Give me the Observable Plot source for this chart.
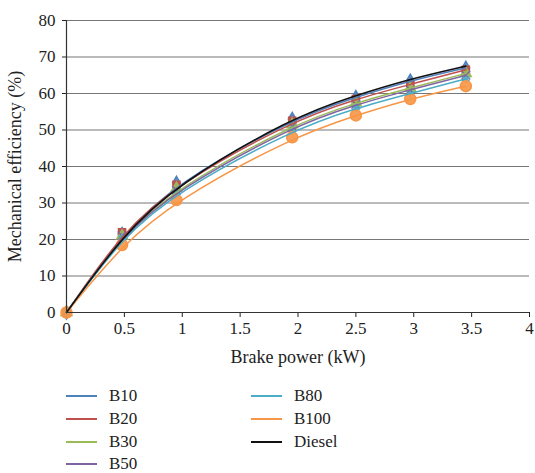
<!DOCTYPE html>
<html>
<head>
<meta charset="utf-8">
<script src="https://cdn.jsdelivr.net/npm/d3@7"></script>
<script src="https://cdn.jsdelivr.net/npm/@observablehq/plot@0.6"></script>
<style>
  html, body { margin: 0; padding: 0; background: #fff; }
  body { width: 535px; height: 473px; overflow: hidden; font-family: "Liberation Serif", "DejaVu Serif", serif; }
  #chart svg { display: block; }
  #legend { position: relative; height: 103px; font-size: 17px; line-height: 18px; color: #222; }
  .item { position: absolute; display: flex; align-items: center; height: 18px; }
  .swatch { width: 31px; height: 0; border-top: 2px solid; margin-right: 12px; }
</style>
</head>
<body>
<div id="chart"></div>
<div id="legend"></div>
<script>
const power = [0, 0.48, 0.95, 1.95, 2.5, 2.97, 3.45];
const seriesNames = ["B10", "B20", "B30", "B50", "B80", "B100", "Diesel"];
const B10 = [0, 21.5, 35.5, 53, 59, 63.5, 67];
const B20 = [0, 22, 35, 52.5, 58.5, 62.5, 66.5];
const B30 = [0, 21, 34, 51.5, 57.5, 61.5, 65.5];
const B50 = [0, 21, 33.5, 51, 57, 61, 65];
const B80 = [0, 20.5, 33, 50, 56, 60, 64];
const B100 = [0, 18.5, 30.8, 48, 54, 58.5, 62];
const Diesel = [0, 21, 35, 53.5, 59.5, 64, 67.5];
const colors = ["#4F81BD", "#C0504D", "#9BBB59", "#8064A2", "#4BACC6", "#F79646", "#111111"];
const symbols = ["diamond", "square", "triangle", "times", "asterisk", "circle", "plus"];
const xTicks = [0, 0.5, 1, 1.5, 2, 2.5, 3, 3.5, 4];
const yTicks = [0, 10, 20, 30, 40, 50, 60, 70, 80];

const valuesBySeries = [B10, B20, B30, B50, B80, B100, Diesel];
const data = [];
seriesNames.forEach((name, i) => {
  valuesBySeries[i].forEach((v, j) => data.push({series: name, power: power[j], eff: v}));
});

const marks = [
  Plot.ruleY(yTicks.filter(d => d > 0), {stroke: "#777", strokeWidth: 1.2}),
];
seriesNames.forEach((name, i) => {
  const d = data.filter(r => r.series === name);
  if (name !== "Diesel") {
    marks.push(Plot.dot(d, {x: "power", y: "eff", symbol: () => symbols[i], fill: colors[i], stroke: colors[i], r: name === "B100" ? 5.5 : 4, strokeWidth: 1.5, fillOpacity: 0.9}));
  }
});
seriesNames.forEach((name, i) => {
  const d = data.filter(r => r.series === name);
  marks.push(Plot.line(d, {x: "power", y: "eff", stroke: colors[i], strokeWidth: name === "Diesel" ? 1.6 : 1.5, curve: "basis"}));
});
marks.push(Plot.ruleX([0], {stroke: "#333", strokeWidth: 1.2}));
marks.push(Plot.ruleY([0], {stroke: "#333", strokeWidth: 1.2}));

const chart = Plot.plot({
  width: 535,
  height: 370,
  marginLeft: 66,
  marginRight: 6,
  marginTop: 20,
  marginBottom: 58,
  style: {fontFamily: "'Liberation Serif', serif", fontSize: "17px", color: "#222", background: "#fff"},
  x: {domain: [0, 4], ticks: xTicks, tickSize: 5, tickPadding: 4, label: "Brake power (kW)", labelAnchor: "center", labelOffset: 50, labelArrow: "none", tickFormat: d => String(d)},
  y: {domain: [0, 80], ticks: yTicks, tickSize: 4, tickPadding: 7, label: "Mechanical efficiency (%)", labelAnchor: "center", labelOffset: 58, labelArrow: "none"},
  marks
});
d3.select(chart).selectAll("g[aria-label='x-axis label'] text, g[aria-label='y-axis label'] text").attr("font-size", 18);
document.getElementById("chart").appendChild(chart);

const legend = document.getElementById("legend");
const positions = [[66, 26], [66, 49], [66, 72], [66, 94], [251, 26], [251, 49], [251, 72]];
seriesNames.forEach((name, i) => {
  const it = document.createElement("div");
  it.className = "item";
  it.style.left = positions[i][0] + "px";
  it.style.top = (positions[i][1] - 9) + "px";
  const sw = document.createElement("span");
  sw.className = "swatch";
  sw.style.borderColor = colors[i];
  const tx = document.createElement("span");
  tx.textContent = name;
  it.appendChild(sw); it.appendChild(tx);
  legend.appendChild(it);
});
</script>
</body>
</html>
